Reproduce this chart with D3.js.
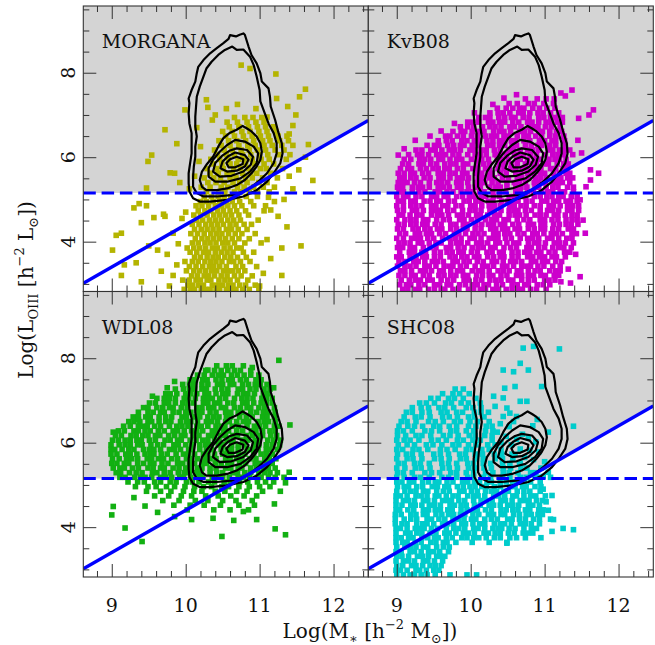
<!DOCTYPE html>
<html>
<head>
<meta charset="utf-8">
<script src="https://cdn.jsdelivr.net/npm/d3@7"></script>
<style>
  body { margin: 0; background: #fff; }
  text { font-family: "DejaVu Serif", "Liberation Serif", serif; fill: #111; }
</style>
</head>
<body>
<svg id="chart" width="655" height="645"></svg>
<script>
// ---- axes ----
const massDomain = [8.615, 12.47];
const lumDomain = [2.82, 9.58];
const massTicks = [9, 10, 11, 12];
const lumTicks = [4, 6, 8];
const lumLimit = 5.15;             // horizontal luminosity cut
const cutSlope = 1.0, cutIntercept = -5.6;   // log L = log M - 5.6

const panelNames = ["MORGANA", "KvB08", "WDL08", "SHC08"];
const panelColors = ["#b4b400", "#cc00cc", "#12b012", "#00cccc"];

// ---- SDSS density contours (log M, log L pairs) ----
const sdssC1 = [10.60,8.89, 10.68,8.86, 10.73,8.90, 10.78,8.93, 10.80,8.90, 10.85,8.62, 10.89,8.42, 10.96,8.22, 11.01,7.99, 11.03,7.79, 11.12,7.63, 11.14,7.43, 11.15,7.20, 11.21,6.88, 11.25,6.61, 11.30,6.33, 11.31,6.09, 11.28,5.86, 11.19,5.62, 11.10,5.42, 10.96,5.22, 10.78,5.07, 10.56,4.99, 10.33,4.95, 10.19,4.95, 10.10,5.03, 10.05,5.19, 10.04,5.38, 10.04,5.62, 10.06,5.86, 10.08,6.09, 10.08,6.33, 10.08,6.57, 10.05,6.80, 10.04,7.04, 10.05,7.28, 10.04,7.39, 10.08,7.59, 10.13,7.79, 10.15,7.99, 10.17,8.14, 10.24,8.30, 10.33,8.46, 10.42,8.58, 10.51,8.70, 10.58,8.80];
const sdssC2 = [10.63,8.62, 10.69,8.54, 10.78,8.55, 10.87,8.38, 10.92,8.18, 10.96,7.91, 11.00,7.59, 11.01,7.32, 11.07,7.04, 11.12,6.80, 11.19,6.57, 11.23,6.33, 11.23,6.09, 11.19,5.86, 11.10,5.62, 10.98,5.42, 10.83,5.22, 10.65,5.11, 10.42,5.07, 10.24,5.07, 10.15,5.15, 10.10,5.30, 10.10,5.54, 10.11,5.78, 10.13,6.01, 10.13,6.25, 10.15,6.49, 10.13,6.72, 10.13,6.96, 10.14,7.20, 10.15,7.43, 10.19,7.67, 10.24,7.91, 10.28,8.10, 10.35,8.26, 10.44,8.42, 10.53,8.54];
const sdssC3 = [10.77,6.74, 10.83,6.68, 10.89,6.61, 10.96,6.49, 11.01,6.33, 11.03,6.13, 11.01,5.94, 10.96,5.78, 10.89,5.62, 10.80,5.46, 10.69,5.34, 10.56,5.26, 10.42,5.22, 10.28,5.22, 10.22,5.30, 10.19,5.46, 10.22,5.66, 10.28,5.82, 10.37,6.01, 10.44,6.25, 10.51,6.45, 10.60,6.58, 10.69,6.65];
const sdssC4 = [10.67,6.41, 10.80,6.37, 10.92,6.25, 10.98,6.09, 10.96,5.86, 10.87,5.66, 10.74,5.50, 10.56,5.42, 10.40,5.42, 10.31,5.54, 10.31,5.74, 10.37,5.94, 10.46,6.13, 10.56,6.29];
const sdssC5 = [10.69,6.21, 10.83,6.17, 10.91,6.01, 10.88,5.82, 10.78,5.66, 10.62,5.56, 10.46,5.54, 10.37,5.66, 10.40,5.86, 10.49,6.03, 10.60,6.16];
const sdssC6 = [10.67,6.11, 10.80,6.05, 10.85,5.94, 10.80,5.78, 10.69,5.68, 10.56,5.66, 10.47,5.74, 10.50,5.90, 10.58,6.03];
const sdssC7 = [10.69,6.01, 10.78,5.95, 10.77,5.84, 10.67,5.76, 10.58,5.76, 10.55,5.86, 10.60,5.95];

// ---- model galaxies: rows of [log L, [log M ...]] plus loose [log M, log L] pairs ----
const morganaRows = [
  [2.87,[9.98,10.06,10.12,10.21,10.27,10.33,10.41,10.46,10.55,10.62,10.68,10.77,10.86,10.99]],
  [2.97,[10.03,10.09,10.17,10.24,10.36,10.43,10.50,10.58,10.64,10.73,10.81,10.94]],
  [3.09,[9.96,10.05,10.14,10.20,10.29,10.34,10.45,10.53,10.60,10.70,10.84]],
  [3.19,[10.08,10.16,10.25,10.31,10.39,10.48,10.56,10.66,10.75,10.90]],
  [3.31,[10.01,10.11,10.19,10.27,10.35,10.42,10.51,10.58,10.63,10.71,10.80]],
  [3.41,[10.05,10.14,10.23,10.32,10.38,10.46,10.55,10.68,10.77,10.96]],
  [3.53,[9.99,10.09,10.17,10.26,10.34,10.41,10.49,10.59,10.65,10.74,10.87]],
  [3.63,[10.12,10.20,10.29,10.37,10.44,10.53,10.61,10.70,10.82]],
  [3.75,[10.06,10.15,10.24,10.31,10.40,10.48,10.56,10.64,10.78,10.92]],
  [3.85,[10.02,10.11,10.19,10.27,10.36,10.43,10.52,10.60,10.69,10.75]],
  [3.97,[10.09,10.17,10.26,10.33,10.41,10.50,10.57,10.66,10.80,11.02]],
  [4.07,[10.13,10.22,10.30,10.38,10.46,10.54,10.63,10.72,10.86]],
  [4.19,[10.07,10.16,10.25,10.34,10.42,10.49,10.58,10.67,10.76,10.94]],
  [4.29,[10.12,10.21,10.29,10.37,10.45,10.55,10.62,10.71,10.83]],
  [4.41,[10.09,10.18,10.27,10.35,10.43,10.51,10.60,10.68,10.79,10.89]],
  [4.51,[10.15,10.23,10.32,10.40,10.48,10.57,10.65,10.74,10.98]],
  [4.63,[10.11,10.20,10.29,10.38,10.46,10.54,10.62,10.72,10.85]],
  [4.73,[10.17,10.26,10.34,10.43,10.51,10.60,10.69,10.81,11.06]],
  [4.85,[10.14,10.22,10.31,10.40,10.49,10.57,10.66,10.76,10.92]],
  [4.95,[10.20,10.28,10.37,10.46,10.55,10.63,10.73,10.88]],
  [5.07,[10.25,10.35,10.44,10.52,10.61,10.70,10.82,10.97]],
  [5.18,[10.28,10.45,10.53,10.66,10.74,10.86,10.97,11.13]],
  [5.29,[10.21,10.33,10.48,10.57,10.70,10.79,10.92,11.05,11.20]],
  [5.40,[10.30,10.41,10.52,10.64,10.73,10.83,10.99,11.10]],
  [5.51,[10.25,10.38,10.47,10.60,10.68,10.81,10.90,11.04,11.24]],
  [5.62,[10.33,10.44,10.56,10.63,10.77,10.88,10.96,11.15]],
  [5.73,[10.29,10.42,10.51,10.65,10.74,10.85,11.01,11.09,11.31]],
  [5.84,[10.37,10.49,10.60,10.69,10.81,10.93,11.06,11.19]],
  [5.95,[10.34,10.46,10.58,10.71,10.79,10.90,11.02,11.13,11.36]],
  [6.06,[10.43,10.55,10.66,10.77,10.88,11.00,11.11,11.26,11.41]],
  [6.17,[10.39,10.52,10.63,10.75,10.86,10.97,11.08,11.21,11.33]],
  [6.28,[10.48,10.60,10.72,10.84,10.94,11.06,11.17,11.30,11.45]],
  [6.39,[10.45,10.58,10.69,10.81,10.92,11.04,11.14,11.27,11.39]],
  [6.50,[10.54,10.66,10.78,10.90,11.01,11.12,11.25,11.37]],
  [6.61,[10.50,10.63,10.76,10.87,10.99,11.10,11.22]],
  [6.72,[10.59,10.72,10.85,10.97,11.08,11.19]],
  [6.83,[10.56,10.70,10.83,10.95,11.06]],
  [6.94,[10.66,10.80,10.91,11.03]]
];
const morganaLoose = [10.75,8.18, 10.87,8.10, 11.22,7.97, 11.62,7.61, 11.54,7.43, 11.23,7.39, 11.38,7.20, 11.49,7.00, 10.28,7.36, 9.99,7.12, 9.72,6.65, 9.88,6.32, 9.54,6.05, 9.49,5.90, 9.79,5.63, 9.85,5.62, 9.92,5.40, 9.47,5.27, 9.37,4.90, 9.47,4.85, 9.30,4.80, 9.70,4.65, 9.72,4.60, 9.57,4.57, 9.40,4.45, 9.13,4.20, 9.06,4.15, 9.01,3.80, 9.17,3.45, 9.13,3.20, 9.40,3.05, 9.33,3.50, 9.50,3.90, 9.62,3.80, 9.75,3.70, 9.67,3.30, 9.83,3.20, 9.83,4.20, 9.95,4.55, 10.00,4.70, 11.66,6.30, 11.62,6.00, 11.72,5.45, 11.45,5.25, 11.53,5.70, 11.37,4.35, 11.56,3.90, 11.30,3.85, 11.30,3.20, 11.05,3.25, 11.00,2.95, 11.15,4.75, 11.25,4.60, 11.12,5.05, 11.20,4.95, 11.33,5.00, 11.08,4.85, 11.40,5.55, 11.15,3.60, 11.10,4.05, 9.90,3.95, 9.88,3.45, 9.78,2.95, 10.05,5.25, 10.12,5.55, 10.18,5.90, 10.20,6.25, 10.15,6.70, 10.40,7.00, 10.55,7.15, 10.70,7.25, 10.95,7.15, 11.10,6.95, 11.45,6.75, 11.40,6.55, 10.30,7.18, 10.36,6.88];

const kvbRows = [
  [2.87,[9.08,9.15,9.25,9.31,9.43,9.51,9.60,9.65,9.76,9.84,9.97,10.04,10.13,10.20,10.30,10.36,10.48,10.56,10.65,10.70,10.81,10.89,11.02]],
  [2.98,[9.04,9.13,9.19,9.30,9.38,9.51,9.58,9.68,9.73,9.85,9.93,10.02,10.09,10.18,10.24,10.35,10.43,10.56,10.63,10.73,10.78,10.90,10.98,11.07]],
  [3.09,[9.06,9.17,9.25,9.32,9.42,9.48,9.60,9.69,9.77,9.91,9.97,10.07,10.15,10.26,10.34,10.41,10.51,10.57,10.69,10.78,10.86,11.00,11.06,11.14]],
  [3.20,[9.03,9.11,9.20,9.25,9.36,9.44,9.57,9.64,9.73,9.80,9.90,9.96,10.08,10.16,10.25,10.30,10.41,10.49,10.62,10.69,10.78,10.85,10.95,11.01,11.13,11.19]],
  [3.31,[9.05,9.11,9.20,9.32,9.39,9.47,9.58,9.63,9.73,9.82,9.89,10.02,10.10,10.16,10.25,10.37,10.44,10.52,10.63,10.68,10.78,10.87,10.94,11.07,11.15,11.21]],
  [3.42,[9.01,9.11,9.18,9.26,9.38,9.44,9.53,9.64,9.71,9.76,9.86,9.94,10.06,10.16,10.23,10.31,10.43,10.49,10.58,10.69,10.76,10.81,10.91,10.99,11.11,11.21]],
  [3.53,[9.03,9.11,9.23,9.29,9.38,9.48,9.55,9.63,9.76,9.82,9.91,9.98,10.09,10.17,10.29,10.35,10.44,10.54,10.61,10.69,10.82,10.88,10.97,11.04,11.15,11.23]],
  [3.64,[9.00,9.06,9.18,9.26,9.35,9.40,9.51,9.59,9.72,9.79,9.88,9.95,10.05,10.11,10.23,10.31,10.40,10.45,10.56,10.64,10.77,10.84,10.93,11.00,11.10,11.16,11.28]],
  [3.75,[9.04,9.17,9.24,9.34,9.39,9.51,9.59,9.68,9.75,9.84,9.90,10.01,10.09,10.22,10.29,10.39,10.44,10.56,10.64,10.73,10.80,10.89,10.95,11.06,11.14,11.27,11.34]],
  [3.86,[9.01,9.08,9.18,9.24,9.36,9.45,9.53,9.67,9.73,9.83,9.91,10.02,10.10,10.17,10.27,10.33,10.45,10.54,10.62,10.76,10.82,10.92,11.00,11.11,11.19,11.26,11.36]],
  [3.97,[9.03,9.10,9.18,9.29,9.34,9.44,9.53,9.60,9.73,9.81,9.87,9.96,10.08,10.15,10.23,10.34,10.39,10.49,10.58,10.65,10.78,10.86,10.92,11.01,11.13,11.20,11.28,11.39]],
  [4.08,[9.00,9.09,9.20,9.27,9.32,9.42,9.50,9.62,9.72,9.79,9.87,9.99,10.05,10.14,10.25,10.32,10.37,10.47,10.55,10.67,10.77,10.84,10.92,11.04,11.10,11.19,11.30,11.37]],
  [4.19,[9.04,9.12,9.25,9.31,9.40,9.47,9.58,9.66,9.78,9.84,9.93,10.03,10.10,10.18,10.31,10.37,10.46,10.53,10.64,10.72,10.84,10.90,10.99,11.09,11.16,11.24,11.37,11.43]],
  [4.30,[9.01,9.09,9.22,9.29,9.38,9.45,9.55,9.61,9.73,9.81,9.90,9.95,10.06,10.14,10.27,10.34,10.43,10.50,10.60,10.66,10.78,10.86,10.95,11.00,11.11,11.19,11.32,11.39]],
  [4.41,[9.02,9.10,9.19,9.26,9.35,9.41,9.52,9.60,9.73,9.80,9.90,9.95,10.07,10.15,10.24,10.31,10.40,10.46,10.57,10.65,10.78,10.85,10.95,11.00,11.12,11.20,11.29,11.36,11.45]],
  [4.52,[9.00,9.11,9.19,9.26,9.36,9.42,9.54,9.63,9.71,9.85,9.91,10.01,10.09,10.20,10.28,10.35,10.45,10.51,10.63,10.72,10.80,10.94,11.00,11.10,11.18,11.29,11.37,11.44]],
  [4.63,[9.03,9.08,9.18,9.27,9.34,9.47,9.55,9.61,9.70,9.82,9.89,9.97,10.08,10.13,10.23,10.32,10.39,10.52,10.60,10.66,10.75,10.87,10.94,11.02,11.13,11.18,11.28,11.37,11.44]],
  [4.74,[9.01,9.09,9.21,9.27,9.36,9.47,9.54,9.59,9.69,9.77,9.89,9.99,10.06,10.14,10.26,10.32,10.41,10.52,10.59,10.64,10.74,10.82,10.94,11.04,11.11,11.19,11.31,11.37,11.46]],
  [4.85,[9.00,9.09,9.19,9.26,9.34,9.47,9.53,9.62,9.69,9.80,9.88,10.00,10.06,10.15,10.25,10.32,10.40,10.53,10.59,10.68,10.75,10.86,10.94,11.06,11.12,11.21,11.31,11.38,11.46]],
  [4.96,[9.02,9.09,9.19,9.25,9.37,9.45,9.54,9.59,9.70,9.78,9.91,9.98,10.07,10.14,10.24,10.30,10.42,10.50,10.59,10.64,10.75,10.83,10.96,11.03,11.12,11.19,11.29,11.35,11.44]],
  [5.07,[9.00,9.09,9.15,9.26,9.34,9.47,9.54,9.64,9.69,9.81,9.89,9.98,10.05,10.14,10.20,10.31,10.39,10.52,10.59,10.69,10.74,10.86,10.94,11.03,11.10,11.19,11.25,11.36,11.44]],
  [5.18,[9.03,9.09,9.21,9.30,9.38,9.52,9.58,9.68,9.76,9.87,9.95,10.02,10.12,10.18,10.30,10.39,10.47,10.61,10.67,10.77,10.85,10.96,11.04,11.11,11.21,11.27,11.39]],
  [5.29,[9.01,9.08,9.21,9.29,9.35,9.44,9.56,9.63,9.71,9.82,9.87,9.97,10.06,10.13,10.26,10.34,10.40,10.49,10.61,10.68,10.76,10.87,10.92,11.02,11.11,11.18,11.31,11.39]],
  [5.40,[9.02,9.09,9.14,9.24,9.32,9.44,9.54,9.61,9.69,9.81,9.87,9.96,10.07,10.14,10.19,10.29,10.37,10.49,10.59,10.66,10.74,10.86,10.92,11.01,11.12,11.19,11.24,11.34]],
  [5.51,[9.04,9.10,9.19,9.26,9.37,9.45,9.57,9.63,9.72,9.82,9.89,9.97,10.10,10.16,10.25,10.32,10.43,10.51,10.63,10.69,10.78,10.88,10.95,11.03,11.16,11.22,11.31,11.38]],
  [5.62,[9.02,9.10,9.19,9.24,9.35,9.43,9.56,9.63,9.72,9.79,9.89,9.95,10.07,10.15,10.24,10.29,10.40,10.48,10.61,10.68,10.77,10.84,10.94,11.00,11.12,11.20,11.29,11.34]],
  [5.73,[9.05,9.15,9.20,9.32,9.40,9.49,9.56,9.65,9.71,9.82,9.90,10.03,10.10,10.20,10.25,10.37,10.45,10.54,10.61,10.70,10.76,10.87,10.95,11.08,11.15,11.25,11.30]],
  [5.84,[9.08,9.16,9.30,9.36,9.46,9.54,9.65,9.73,9.80,9.90,9.96,10.08,10.17,10.25,10.39,10.45,10.55,10.63,10.74,10.82,10.89,10.99,11.05,11.17,11.26,11.32]],
  [5.95,[9.10,9.19,9.31,9.38,9.46,9.57,9.62,9.72,9.81,9.88,10.01,10.09,10.15,10.24,10.36,10.43,10.51,10.62,10.67,10.77,10.86,10.93,11.06,11.14,11.20,11.29]],
  [6.06,[9.16,9.28,9.34,9.43,9.54,9.61,9.66,9.76,9.84,9.96,10.06,10.13,10.21,10.33,10.39,10.48,10.59,10.66,10.71,10.81,10.89,11.01,11.11,11.18,11.26,11.38]],
  [6.17,[9.26,9.34,9.46,9.52,9.61,9.71,9.78,9.86,9.99,10.05,10.14,10.21,10.32,10.40,10.52,10.58,10.67,10.77,10.84,10.92,11.05,11.11,11.20,11.27,11.34]],
  [6.28,[9.41,9.51,9.57,9.69,9.77,9.86,9.91,10.02,10.10,10.23,10.30,10.39,10.46,10.56,10.62,10.74,10.82,10.91,10.96,11.07,11.15,11.28]],
  [6.39,[9.56,9.67,9.75,9.88,9.95,10.05,10.10,10.22,10.30,10.39,10.46,10.55,10.61,10.72,10.80,10.93,11.00,11.10,11.15,11.27]],
  [6.50,[9.66,9.72,9.82,9.90,10.01,10.09,10.20,10.28,10.35,10.45,10.51,10.63,10.72,10.78,10.88,10.96,11.07,11.15,11.26]],
  [6.61,[9.76,9.87,9.92,10.02,10.11,10.18,10.31,10.39,10.45,10.54,10.66,10.73,10.81,10.92,10.97,11.07,11.16,11.23]],
  [6.72,[9.86,9.96,10.04,10.16,10.26,10.33,10.41,10.53,10.59,10.68,10.79,10.86,10.91,11.01,11.09,11.21]],
  [6.83,[9.96,10.03,10.11,10.24,10.30,10.39,10.46,10.57,10.65,10.77,10.83,10.92,11.02,11.09,11.17,11.24]],
  [6.94,[10.11,10.20,10.26,10.38,10.46,10.55,10.60,10.71,10.79,10.92,10.99,11.08,11.15,11.24]],
  [7.05,[10.26,10.37,10.44,10.53,10.65,10.71,10.80,10.91,10.98,11.08,11.19]],
  [7.16,[10.36,10.48,10.57,10.66,10.72,10.84,10.93,11.03,11.14]],
  [7.27,[10.52,10.63,10.78,10.86,10.99,11.12]],
  [7.38,[10.74,10.90,11.02,11.13]]
];
const kvbLoose = [11.62,5.46, 11.66,7.12, 11.60,7.00, 11.48,4.99, 11.52,4.51, 11.48,3.17, 11.35,3.02, 11.62,5.70, 11.73,5.62, 11.56,5.30, 11.37,7.59, 11.46,6.92, 11.22,7.52, 11.45,6.40, 11.50,6.10, 11.55,4.20, 11.42,3.70, 11.32,3.35, 11.22,3.05, 9.10,6.20, 9.02,6.05, 9.25,6.40, 9.45,6.50, 9.60,6.62, 10.05,7.05, 10.30,7.25, 9.78,6.80, 10.45,7.40, 10.62,7.48, 11.28,7.45];

const wdlRows = [
  [7.82,[10.42,10.55,10.63,10.78]],
  [7.71,[10.27,10.39,10.48,10.57,10.66,10.74,10.88]],
  [7.60,[10.16,10.25,10.36,10.44,10.51,10.62,10.70,10.79,10.88,10.99]],
  [7.49,[10.06,10.13,10.23,10.29,10.41,10.49,10.58,10.63,10.74,10.82,10.95,11.02]],
  [7.38,[9.96,10.05,10.11,10.22,10.30,10.43,10.50,10.60,10.65,10.77,10.85,10.94,11.01,11.10]],
  [7.27,[9.86,9.97,10.05,10.12,10.22,10.28,10.40,10.49,10.57,10.71,10.77,10.87,10.95,11.06,11.14]],
  [7.16,[9.73,9.79,9.88,10.00,10.07,10.15,10.26,10.31,10.41,10.50,10.57,10.70,10.78,10.84,10.93,11.05,11.12]],
  [7.05,[9.61,9.71,9.78,9.86,9.98,10.04,10.13,10.24,10.31,10.36,10.46,10.54,10.66,10.76,10.83,10.91,11.03,11.09,11.17]],
  [6.94,[9.51,9.59,9.71,9.77,9.86,9.96,10.03,10.11,10.24,10.30,10.39,10.46,10.57,10.65,10.77,10.83,10.92,11.02,11.09,11.17]],
  [6.83,[9.43,9.49,9.61,9.69,9.78,9.83,9.94,10.02,10.15,10.22,10.31,10.38,10.48,10.54,10.66,10.74,10.83,10.88,10.99,11.07,11.20]],
  [6.72,[9.36,9.49,9.56,9.66,9.71,9.83,9.91,10.00,10.07,10.16,10.22,10.33,10.41,10.54,10.61,10.71,10.76,10.88,10.96,11.05,11.12,11.21]],
  [6.61,[9.29,9.36,9.46,9.52,9.64,9.73,9.81,9.95,10.01,10.11,10.19,10.30,10.38,10.45,10.55,10.61,10.73,10.82,10.90,11.04,11.10,11.20]],
  [6.50,[9.23,9.30,9.38,9.49,9.54,9.64,9.73,9.80,9.93,10.01,10.07,10.16,10.28,10.35,10.43,10.54,10.59,10.69,10.78,10.85,10.98,11.06,11.12,11.21]],
  [6.39,[9.16,9.25,9.36,9.43,9.48,9.58,9.66,9.78,9.88,9.95,10.03,10.15,10.21,10.30,10.41,10.48,10.53,10.63,10.71,10.83,10.93,11.00,11.08,11.20,11.26]],
  [6.28,[9.09,9.17,9.30,9.36,9.45,9.52,9.63,9.71,9.83,9.89,9.98,10.08,10.15,10.23,10.36,10.42,10.51,10.58,10.69,10.77,10.89,10.95,11.04,11.14,11.21]],
  [6.17,[9.05,9.13,9.26,9.33,9.42,9.49,9.59,9.65,9.77,9.85,9.94,9.99,10.10,10.18,10.31,10.38,10.47,10.54,10.64,10.70,10.82,10.90,10.99,11.04,11.15,11.23]],
  [6.06,[9.01,9.09,9.18,9.25,9.34,9.40,9.51,9.59,9.72,9.79,9.89,9.94,10.06,10.14,10.23,10.30,10.39,10.45,10.56,10.64,10.77,10.84,10.94,10.99,11.11,11.19,11.28]],
  [5.95,[8.99,9.10,9.18,9.25,9.35,9.41,9.53,9.62,9.70,9.84,9.90,10.00,10.08,10.19,10.27,10.34,10.44,10.50,10.62,10.71,10.79,10.93,10.99,11.09,11.17,11.27]],
  [5.84,[8.99,9.04,9.14,9.23,9.30,9.43,9.51,9.57,9.66,9.78,9.85,9.93,10.04,10.09,10.19,10.28,10.35,10.48,10.56,10.62,10.71,10.83,10.90,10.98,11.09,11.14,11.24]],
  [5.73,[8.99,9.07,9.19,9.25,9.34,9.45,9.52,9.57,9.67,9.75,9.87,9.97,10.04,10.12,10.24,10.30,10.39,10.50,10.57,10.62,10.72,10.80,10.92,11.02,11.09,11.17]],
  [5.62,[9.01,9.10,9.20,9.27,9.35,9.48,9.54,9.63,9.70,9.81,9.89,10.01,10.07,10.16,10.26,10.33,10.41,10.54,10.60,10.69,10.76,10.87,10.95,11.07,11.13,11.22]],
  [5.51,[9.00,9.07,9.17,9.23,9.35,9.43,9.52,9.57,9.68,9.76,9.89,9.96,10.05,10.12,10.22,10.28,10.40,10.48,10.57,10.62,10.73,10.81,10.94,11.01,11.10,11.17]],
  [5.40,[9.02,9.11,9.17,9.28,9.36,9.49,9.56,9.66,9.71,9.83,9.91,10.00,10.07,10.16,10.22,10.33,10.41,10.54,10.61,10.71,10.76,10.88,10.96,11.05,11.12,11.21]],
  [5.29,[9.06,9.12,9.24,9.33,9.41,9.55,9.61,9.71,9.79,9.90,9.98,10.05,10.15,10.21,10.33,10.42,10.50,10.64,10.70,10.80,10.88,10.99,11.07,11.14,11.24]],
  [5.18,[9.11,9.18,9.31,9.39,9.45,9.54,9.66,9.73,9.81,9.92,9.97,10.07,10.16,10.23,10.36,10.44,10.50,10.59,10.71,10.78,10.86,10.97,11.02,11.12,11.21,11.33]],
  [5.07,[9.22,9.35,9.44,9.58,9.66,9.79,9.87,10.01,10.09,10.18,10.31,10.39,10.52,10.60,10.73,10.84,10.97,11.08,11.19]],
  [4.96,[9.32,9.49,9.60,9.74,9.85,9.99,10.12,10.24,10.35,10.49,10.58,10.72,10.86,11.00,11.14]],
  [4.85,[9.47,9.66,9.80,9.97,10.11,10.22,10.40,10.53,10.69,10.83,11.04]],
  [4.74,[9.58,9.77,9.94,10.08,10.27,10.44,10.61,10.79,10.96]],
  [4.63,[9.69,9.91,10.13,10.30,10.50,10.68,10.90]],
  [4.52,[9.84,10.06,10.25,10.47,10.72,10.93]],
  [4.41,[10.02,10.38,10.60,10.85]]
];
const wdlLoose = [11.26,7.95, 11.41,6.42, 11.19,7.30, 9.36,6.55, 9.02,6.25, 9.02,4.49, 9.00,4.29, 9.18,3.98, 9.41,3.66, 10.08,4.18, 10.49,3.78, 10.65,4.16, 10.96,4.18, 11.21,3.96, 11.35,3.82, 10.78,4.37, 10.37,4.21, 9.30,4.70, 9.45,4.50, 9.62,4.35, 9.85,4.25, 11.20,4.55, 11.28,4.85, 11.35,5.05, 10.30,7.72, 10.90,7.78, 9.75,7.30, 9.55,7.10, 9.85,7.45, 11.40,5.30];

const shcRows = [
  [7.27,[9.79,9.90]],
  [7.16,[9.62,9.76,9.85,9.98]],
  [7.05,[9.46,9.56,9.70,9.78,9.90,10.07]],
  [6.94,[9.31,9.40,9.51,9.66,9.74,9.87,9.97,10.13]],
  [6.83,[9.21,9.33,9.43,9.57,9.65,9.77,9.94,10.03,10.14]],
  [6.72,[9.13,9.21,9.34,9.44,9.60,9.68,9.81,9.89,10.05,10.14,10.24]],
  [6.61,[9.10,9.25,9.33,9.45,9.62,9.71,9.82,9.97,10.05,10.18]],
  [6.50,[9.06,9.14,9.26,9.43,9.52,9.63,9.78,9.86,9.99,10.09,10.25]],
  [6.39,[9.03,9.15,9.24,9.35,9.50,9.58,9.71,9.81,9.97,10.07,10.21,10.29]],
  [6.28,[9.01,9.09,9.21,9.38,9.47,9.58,9.73,9.81,9.94,10.04,10.20,10.30]],
  [6.17,[9.01,9.12,9.26,9.34,9.46,9.63,9.72,9.83,9.98,10.06,10.19,10.29]],
  [6.06,[9.00,9.10,9.18,9.30,9.47,9.56,9.67,9.82,9.90,10.03,10.13,10.29]],
  [5.95,[9.02,9.14,9.24,9.40,9.49,9.61,9.76,9.84,9.97,10.07,10.23,10.33]],
  [5.84,[9.00,9.08,9.22,9.30,9.42,9.59,9.68,9.79,9.94,10.02,10.15,10.25,10.41]],
  [5.73,[9.01,9.13,9.21,9.33,9.50,9.59,9.70,9.85,9.93,10.06,10.16,10.32,10.42,10.56]],
  [5.62,[9.00,9.14,9.22,9.34,9.51,9.60,9.71,9.86,9.94,10.07,10.17,10.33,10.43,10.57]],
  [5.51,[9.02,9.10,9.24,9.32,9.44,9.61,9.70,9.81,9.96,10.04,10.17,10.27,10.43,10.53,10.67]],
  [5.40,[9.00,9.11,9.25,9.33,9.45,9.62,9.71,9.82,9.97,10.05,10.18,10.28,10.44,10.54,10.68,10.76]],
  [5.29,[9.01,9.09,9.21,9.38,9.47,9.58,9.73,9.81,9.94,10.04,10.20,10.30,10.44,10.52,10.64,10.81,10.88]],
  [5.18,[9.00,9.10,9.24,9.32,9.44,9.61,9.70,9.81,9.96,10.04,10.17,10.27,10.43,10.53,10.67,10.75,10.87,10.94]],
  [5.07,[9.00,9.07,9.17,9.23,9.35,9.43,9.52,9.57,9.68,9.76,9.89,9.96,10.05,10.12,10.22,10.28,10.40,10.48,10.57,10.62,10.73,10.81,10.94]],
  [4.96,[9.01,9.10,9.16,9.27,9.35,9.48,9.55,9.65,9.70,9.82,9.90,9.99,10.06,10.15,10.21,10.32,10.40,10.53,10.60,10.70,10.75,10.87,10.95]],
  [4.85,[9.00,9.11,9.19,9.26,9.36,9.42,9.54,9.63,9.71,9.85,9.91,10.01,10.09,10.20,10.28,10.35,10.45,10.51,10.63,10.72,10.80,10.94]],
  [4.74,[8.99,9.05,9.14,9.26,9.33,9.41,9.52,9.57,9.67,9.76,9.83,9.96,10.04,10.10,10.19,10.31,10.38,10.46,10.57,10.62,10.72,10.81,10.88,11.01]],
  [4.63,[8.99,9.09,9.16,9.24,9.36,9.42,9.51,9.62,9.69,9.74,9.84,9.92,10.04,10.14,10.21,10.29,10.41,10.47,10.56,10.67,10.74,10.79,10.89,10.97]],
  [4.52,[8.99,9.07,9.19,9.25,9.34,9.44,9.51,9.59,9.72,9.78,9.87,9.94,10.05,10.13,10.25,10.31,10.40,10.50,10.57,10.65,10.78,10.84,10.93]],
  [4.41,[8.99,9.04,9.15,9.23,9.36,9.43,9.52,9.59,9.69,9.75,9.87,9.95,10.04,10.09,10.20,10.28,10.41,10.48,10.57,10.64,10.74,10.80,10.92,10.98]],
  [4.30,[8.98,9.06,9.19,9.26,9.36,9.41,9.53,9.61,9.70,9.77,9.86,9.92,10.03,10.11,10.24,10.31,10.41,10.46,10.58,10.66,10.75,10.82,10.91,10.97]],
  [4.19,[8.98,9.10,9.19,9.27,9.41,9.47,9.57,9.65,9.76,9.84,9.91,10.01,10.07,10.19,10.28,10.36,10.50,10.56,10.66,10.74,10.85,10.93,11.08]],
  [4.08,[8.98,9.07,9.14,9.27,9.35,9.41,9.50,9.62,9.69,9.77,9.88,9.93,10.03,10.12,10.19,10.32,10.40,10.46,10.55,10.67,10.74,10.82,10.93]],
  [3.97,[8.99,9.05,9.14,9.25,9.32,9.37,9.47,9.55,9.67,9.77,9.84,9.92,10.04,10.10,10.19,10.30,10.37,10.42,10.52,10.60,10.72,10.82,10.89]],
  [3.86,[8.99,9.12,9.18,9.27,9.34,9.45,9.53,9.65,9.71,9.80,9.90,9.97,10.05,10.18,10.24,10.33,10.40,10.51,10.59,10.71,10.77,10.84]],
  [3.75,[8.99,9.06,9.16,9.22,9.34,9.42,9.51,9.56,9.67,9.75,9.88,9.95,10.04,10.11,10.21,10.32,10.40,10.53,10.62,10.74]],
  [3.64,[8.99,9.08,9.14,9.25,9.33,9.46,9.53,9.63,9.68,9.80,10.02,10.25,10.49]],
  [3.53,[9.00,9.11,9.19,9.26,9.36,9.42,9.54,9.63,9.71]],
  [3.42,[8.99,9.06,9.18,9.24,9.33,9.43,9.50,9.58,9.70]],
  [3.31,[9.00,9.07,9.16,9.28,9.35,9.43,9.54,9.59,9.65]],
  [3.20,[8.99,9.09,9.16,9.24,9.36,9.42,9.51,9.62]],
  [3.09,[9.00,9.08,9.20,9.26,9.35,9.45,9.52,9.60]],
  [2.98,[8.99,9.05,9.14,9.26,9.31,9.40,9.50,9.57]],
  [2.87,[9.00,9.09,9.18,9.24,9.33,9.41,9.52,9.72,9.95,10.08]]
];
const shcLoose = [10.71,8.24, 10.85,8.28, 11.20,8.22, 10.67,7.88, 10.78,7.72, 10.44,7.72, 10.58,7.68, 10.60,7.33, 10.46,7.29, 10.31,7.10, 10.96,7.33, 10.67,6.98, 10.76,6.98, 10.44,7.06, 10.33,6.86, 10.49,6.82, 10.44,6.62, 10.53,6.70, 10.62,6.62, 11.39,6.39, 10.40,6.45, 10.52,6.38, 10.36,6.25, 10.48,6.15, 10.41,6.00, 10.55,5.95, 10.62,6.08, 10.70,6.20, 10.78,6.12, 10.88,6.02, 10.67,5.85, 10.80,5.82, 10.92,5.78, 10.60,5.72, 10.73,5.65, 10.85,5.60, 11.00,5.55, 10.66,5.52, 10.95,5.40, 11.05,5.30, 10.98,5.20, 11.08,5.18, 10.84,6.40, 10.58,6.50, 10.90,6.55, 11.05,6.25, 11.12,4.18, 11.39,3.94, 11.25,3.97, 11.10,3.90, 10.49,3.62, 10.95,3.75, 11.05,4.40, 11.02,4.60, 11.10,4.75, 10.98,4.90];

// ---- layout ----
const originX = 83.3, originY = 6, panelW = 285, panelH = 285.5;
const markSize = 5.6;
const svg = d3.select("#chart");
const xS = d3.scaleLinear().domain(massDomain).range([0, panelW]);
const yS = d3.scaleLinear().domain(lumDomain).range([panelH, 0]);

const pairs = flat => d3.range(0, flat.length, 2).map(i => [flat[i], flat[i + 1]]);
const panels = [
  { rows: morganaRows, loose: morganaLoose, col: 0, row: 0 },
  { rows: kvbRows,     loose: kvbLoose,     col: 1, row: 0 },
  { rows: wdlRows,     loose: wdlLoose,     col: 0, row: 1 },
  { rows: shcRows,     loose: shcLoose,     col: 1, row: 1 }
];
const contours = [sdssC1, sdssC2, sdssC3, sdssC4, sdssC5, sdssC6, sdssC7].map(pairs);

svg.append("defs").append("clipPath").attr("id", "panel-clip")
  .append("rect").attr("width", panelW).attr("height", panelH);

// selected region: above both the flat limit and the sloped cut
const mCross = (lumLimit - cutIntercept) / cutSlope;
const shade = [
  [massDomain[0], lumDomain[1]], [massDomain[1], lumDomain[1]],
  [massDomain[1], Math.max(lumLimit, cutSlope * massDomain[1] + cutIntercept)],
  [mCross, lumLimit], [massDomain[0], lumLimit]
];
const toPx = d => [xS(d[0]), yS(d[1])];
const closedGen = d3.line().curve(d3.curveLinearClosed);

const xMinor = d3.range(8.8, 12.45, 0.2).map(v => +v.toFixed(1)).filter(v => !massTicks.includes(v));
const yMinor = d3.range(3, 9.55, 0.5).filter(v => !lumTicks.includes(v));
const majorLen = 13, minorLen = 6;

function edgeTicks(g, xv, yv, len) {
  const fmt = () => "";
  g.append("g").attr("transform", `translate(0,${panelH})`)
    .call(d3.axisBottom(xS).tickValues(xv).tickSize(-len).tickFormat(fmt));
  g.append("g").call(d3.axisTop(xS).tickValues(xv).tickSize(-len).tickFormat(fmt));
  g.append("g").call(d3.axisLeft(yS).tickValues(yv).tickSize(-len).tickFormat(fmt));
  g.append("g").attr("transform", `translate(${panelW},0)`)
    .call(d3.axisRight(yS).tickValues(yv).tickSize(-len).tickFormat(fmt));
}

panels.forEach((p, i) => {
  const g = svg.append("g")
    .attr("transform", `translate(${originX + p.col * panelW},${originY + p.row * panelH})`);
  const body = g.append("g").attr("clip-path", "url(#panel-clip)");

  body.append("path").attr("d", "M" + shade.map(toPx).join("L") + "Z").attr("fill", "#d4d4d4");

  const pts = [];
  p.rows.forEach(([lum, masses]) => masses.forEach(m => pts.push([m, lum])));
  pairs(p.loose).forEach(d => pts.push(d));
  body.append("g").attr("fill", panelColors[i])
    .selectAll("rect").data(pts).join("rect")
    .attr("x", d => xS(d[0]) - markSize / 2)
    .attr("y", d => yS(d[1]) - markSize / 2)
    .attr("width", markSize).attr("height", markSize);

  body.append("g").selectAll("path").data(contours).join("path")
    .attr("d", c => closedGen(c.map(toPx)))
    .attr("fill", "none").attr("stroke", "#000").attr("stroke-width", 2.2)
    .attr("stroke-linejoin", "round");

  body.append("line")
    .attr("x1", xS(massDomain[0])).attr("x2", xS(massDomain[1]))
    .attr("y1", yS(lumLimit)).attr("y2", yS(lumLimit))
    .attr("stroke", "#0000ff").attr("stroke-width", 3).attr("stroke-dasharray", "12.5,5.8");
  body.append("line")
    .attr("x1", xS(massDomain[0])).attr("y1", yS(cutSlope * massDomain[0] + cutIntercept))
    .attr("x2", xS(massDomain[1])).attr("y2", yS(cutSlope * massDomain[1] + cutIntercept))
    .attr("stroke", "#0000ff").attr("stroke-width", 3.5);

  const axes = g.append("g");
  edgeTicks(axes, massTicks, lumTicks, majorLen);
  edgeTicks(axes, xMinor, yMinor, minorLen);
  axes.selectAll(".domain").remove();
  axes.selectAll(".tick line").attr("stroke", "#333").attr("stroke-width", 1);

  g.append("rect").attr("width", panelW).attr("height", panelH)
    .attr("fill", "none").attr("stroke", "#333").attr("stroke-width", 1.1);

  g.append("text").attr("x", 18.5).attr("y", 42)
    .attr("font-size", 19).text(panelNames[i]);

  if (p.row === 1) {
    g.selectAll("text.xlab").data(massTicks).join("text").attr("class", "xlab")
      .attr("x", d => xS(d)).attr("y", panelH + 35)
      .attr("text-anchor", "middle").attr("font-size", 19).text(d => d);
  }
  if (p.col === 0) {
    g.selectAll("text.ylab").data(lumTicks).join("text").attr("class", "ylab")
      .attr("transform", d => `translate(-15,${yS(d)}) rotate(-90)`)
      .attr("dy", "0.36em").attr("text-anchor", "middle").attr("font-size", 19).text(d => d);
  }
});

// axis titles
const xt = svg.append("text").attr("x", 370).attr("y", 638)
  .attr("text-anchor", "middle").attr("font-size", 20);
xt.append("tspan").text("Log(M");
xt.append("tspan").attr("font-size", 13).attr("dy", 5).text("∗");
xt.append("tspan").attr("dy", -5).text(" [h");
xt.append("tspan").attr("font-size", 13).attr("dy", -9).text("−2");
xt.append("tspan").attr("dy", 9).text(" M");
xt.append("tspan").attr("font-size", 13).attr("dy", 5).text("⊙");
xt.append("tspan").attr("dy", -5).text("])");

const yt = svg.append("text").attr("transform", "translate(33,290) rotate(-90)")
  .attr("text-anchor", "middle").attr("font-size", 20);
yt.append("tspan").text("Log(L");
yt.append("tspan").attr("font-size", 13).attr("dy", 5).text("OIII");
yt.append("tspan").attr("dy", -5).text(" [h");
yt.append("tspan").attr("font-size", 13).attr("dy", -9).text("−2");
yt.append("tspan").attr("dy", 9).text(" L");
yt.append("tspan").attr("font-size", 13).attr("dy", 5).text("⊙");
yt.append("tspan").attr("dy", -5).text("])");
</script>
</body>
</html>
